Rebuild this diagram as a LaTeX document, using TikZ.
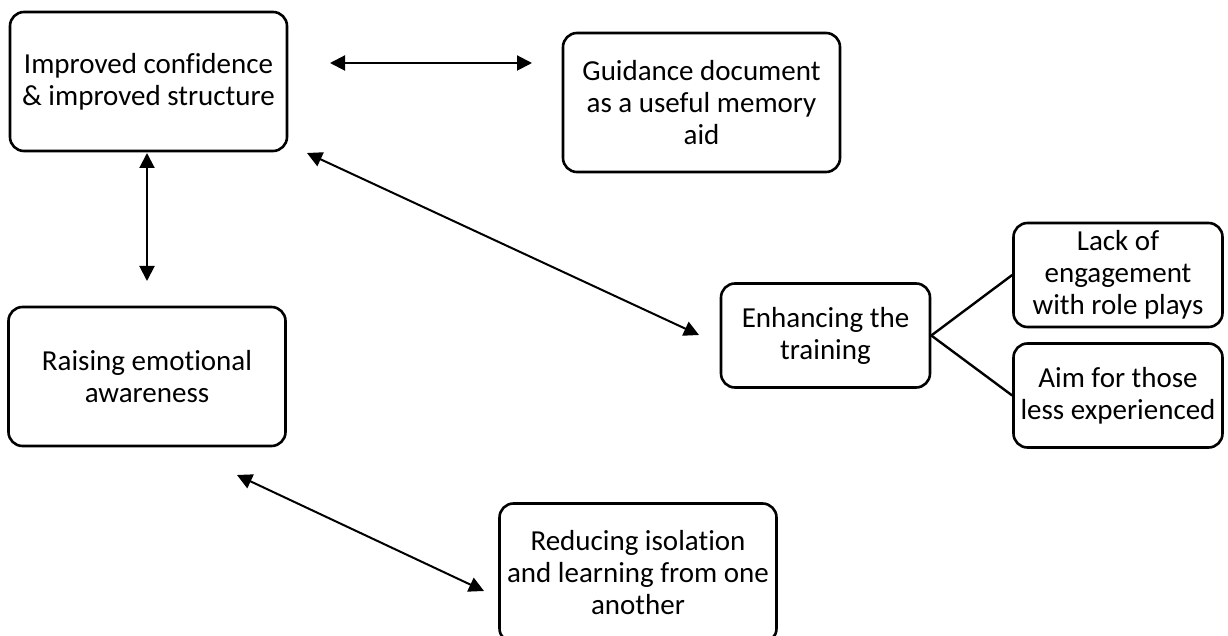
\documentclass[tikz,border=0pt]{standalone}
\usepackage{fontspec}
\setmainfont{Carlito}[Ligatures=NoCommon]
\usetikzlibrary{arrows.meta}
\begin{document}
\begin{tikzpicture}[x=1pt,y=-1pt,
  box/.style={draw, line width=2.6pt, rounded corners=14pt, align=center,
    inner sep=0pt, font=\fontsize{29}{32}\selectfont},
  bigbox/.style={box, minimum width=277pt, minimum height=139pt},
  smallbox/.style={box, minimum width=209pt, minimum height=104pt},
  link/.style={line width=2pt,
    {Triangle[length=15pt,width=15pt]}-{Triangle[length=15pt,width=15pt]}},
  branch/.style={line width=2.4pt}]
\useasboundingbox (0,0) rectangle (1228,636);
\clip (0,0) rectangle (1228,636);
\fill[white] (0,0) rectangle (1228,636);

% boxes
\node[bigbox] (conf) at (148.5,81.5) {Improved confidence\\\& improved structure};
\node[bigbox] (guide) at (701.5,102.5) {Guidance document\\as a useful memory\\aid};
\node[bigbox] (aware) at (147,376.5) {Raising emotional\\awareness};
\node[bigbox] (isol) at (638,573) {Reducing isolation\\and learning from one\\another};
\node[smallbox] (train) at (825.5,335.5) {Enhancing the\\training};
\node[smallbox] (role) at (1118,275) {Lack of\\engagement\\with role plays};
\node[smallbox] (less) at (1118,395.5) {Aim for those\\less experienced};

% free ends of the double-headed arrows
\coordinate (h1) at (330,63);
\coordinate (h2) at (532,63);
\coordinate (v1) at (147,153);
\coordinate (v2) at (147,281);
\coordinate (d1) at (307,153);
\coordinate (d2) at (699,335);
\coordinate (e1) at (237,475);
\coordinate (e2) at (484,591);

\draw[link] (h1) -- (h2);
\draw[link] (v1) -- (v2);
\draw[link] (d1) -- (d2);
\draw[link] (e1) -- (e2);

% branches of the training box
\draw[branch] (train.east) -- (role.west);
\draw[branch] (train.east) -- (less.west);
\end{tikzpicture}
\end{document}
